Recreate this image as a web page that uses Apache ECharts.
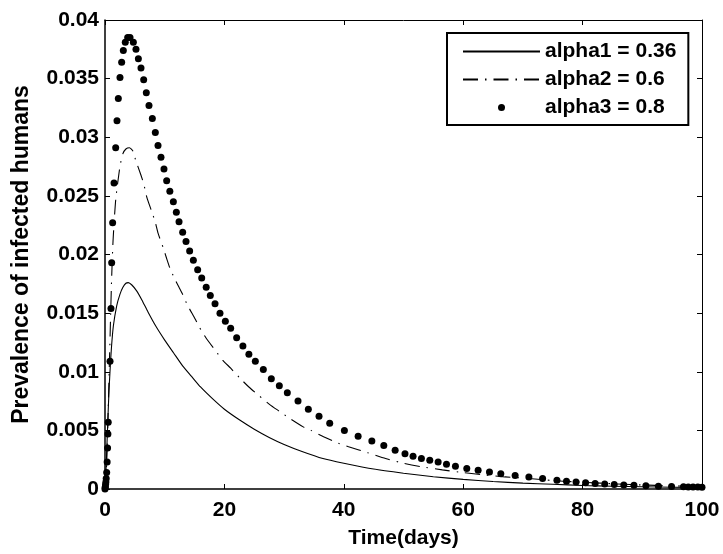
<!DOCTYPE html>
<html>
<head>
<meta charset="utf-8">
<script src="https://cdn.jsdelivr.net/npm/echarts@6/dist/echarts.min.js"></script>
<style>
html,body{margin:0;padding:0;background:#fff;}
#c{width:723px;height:554px;}
</style>
</head>
<body>
<div id="c"></div>
<script>
// ---- data ----
const xTicks = [0, 20, 40, 60, 80, 100];
const yTicks = [0, 0.005, 0.01, 0.015, 0.02, 0.025, 0.03, 0.035, 0.04];
const seriesNames = ['alpha1 = 0.36', 'alpha2 = 0.6', 'alpha3 = 0.8'];

// alpha1 = 0.36 (solid)
const tSolid = [0, 0.1, 0.2, 0.3, 0.45, 0.6, 0.75, 0.9, 1.1, 1.4, 1.95, 2.5, 3.0, 3.5, 3.9, 4.5, 5.3, 6.2, 7.2, 8.5, 10, 11.5, 13, 14.5, 16, 18, 20, 22.5, 25, 27.5, 30, 33, 36.5, 40, 45, 50, 55, 60, 65, 70, 75, 80, 85, 90, 95, 100];
const vSolid = [0, 0.0008, 0.0020, 0.0034, 0.0055, 0.0075, 0.0092, 0.0106, 0.0122, 0.0139, 0.0156, 0.0166, 0.0172, 0.01755, 0.0176, 0.0174, 0.0169, 0.0161, 0.0151, 0.0139, 0.0127, 0.0116, 0.0105, 0.0096, 0.0087, 0.0077, 0.0068, 0.0059, 0.0051, 0.0044, 0.0038, 0.0032, 0.0026, 0.0022, 0.0017, 0.00135, 0.00105, 0.00082, 0.00064, 0.0005, 0.0004, 0.0003, 0.00024, 0.00019, 0.00015, 0.00012];

// alpha2 = 0.6 (dash-dot)
const tDash = [0, 0.1, 0.2, 0.3, 0.45, 0.6, 0.75, 0.9, 1.1, 1.35, 1.8, 2.5, 3.0, 3.5, 4.1, 4.7, 5.1, 6.0, 6.5, 7.0, 7.8, 8.4, 8.9, 9.8, 10.3, 10.9, 11.7, 12.4, 13.0, 13.8, 15.1, 15.8, 16.9, 18.5, 19.7, 21.05, 22.9, 24.1, 25.7, 27.6, 29.3, 31, 33.2, 34.5, 36.6, 39.1, 40.8, 44, 47, 50, 53, 56.5, 60, 63.5, 67, 71, 75, 78.5, 83, 88, 94, 100];
const vDash = [0, 0.0004, 0.0012, 0.0025, 0.0050, 0.0080, 0.0110, 0.0140, 0.0178, 0.0212, 0.0247, 0.0275, 0.0286, 0.0290, 0.0291, 0.0288, 0.0281, 0.0268, 0.0260, 0.0249, 0.0237, 0.0228, 0.0218, 0.0205, 0.0197, 0.0188, 0.0179, 0.0172, 0.0166, 0.0157, 0.0145, 0.0138, 0.0129, 0.0118, 0.0110, 0.0103, 0.0093, 0.0087, 0.0080, 0.0072, 0.0066, 0.0060, 0.0053, 0.0050, 0.00446, 0.0039, 0.0036, 0.0031, 0.0026, 0.0022, 0.0019, 0.00163, 0.0014, 0.0012, 0.00103, 0.0009, 0.00072, 0.00062, 0.0005, 0.00038, 0.00028, 0.0002];

// alpha3 = 0.8 (solver points, drawn as dots)
const tDot = [0, 0.03, 0.06, 0.1, 0.15, 0.2, 0.28, 0.36, 0.43, 0.49, 0.54, 0.84, 1.0, 1.12, 1.28, 1.51, 1.79, 2.01, 2.23, 2.51, 2.79, 3.07, 3.4, 3.8, 4.19, 4.75, 5.19, 5.59, 6.03, 6.48, 6.92, 7.37, 7.93, 8.43, 8.88, 9.38, 9.88, 10.33, 10.86, 11.45, 11.95, 12.4, 13.01, 13.57, 14.18, 14.8, 15.52, 16.2, 16.95, 17.64, 18.43, 19.26, 20.16, 21.05, 22.05, 23.1, 24.1, 25.18, 26.52, 27.86, 29.2, 30.54, 32.33, 34.06, 35.85, 37.64, 40.1, 42.4, 44.7, 46.7, 48.6, 50.25, 51.6, 53.0, 54.4, 55.8, 57.2, 58.7, 60.6, 62.5, 64.4, 66.3, 68.7, 71.0, 73.3, 75.7, 77.3, 78.9, 80.5, 82.1, 83.7, 85.3, 86.9, 88.6, 90.6, 92.7, 94.9, 96.9, 97.7, 98.5, 99.3, 100];
const vDot = [0, 0.0001, 0.0002, 0.0004, 0.0006, 0.0009, 0.0014, 0.0023, 0.0035, 0.0047, 0.0057, 0.0109, 0.0154, 0.0193, 0.0227, 0.0261, 0.0291, 0.0314, 0.0333, 0.0351, 0.0364, 0.0374, 0.0381, 0.0385, 0.0385, 0.0381, 0.0375, 0.0367, 0.0359, 0.0349, 0.0338, 0.0327, 0.0316, 0.0304, 0.0293, 0.0283, 0.0273, 0.0263, 0.0254, 0.0245, 0.0236, 0.0228, 0.0219, 0.0211, 0.0203, 0.0195, 0.0187, 0.0180, 0.0172, 0.0165, 0.0158, 0.0150, 0.0143, 0.0137, 0.0129, 0.0122, 0.0115, 0.0109, 0.0102, 0.0094, 0.0088, 0.0082, 0.0075, 0.0068, 0.0062, 0.0056, 0.0050, 0.0045, 0.0041, 0.0037, 0.0033, 0.0030, 0.0028, 0.0026, 0.00245, 0.0023, 0.00212, 0.00195, 0.00175, 0.0016, 0.00145, 0.0013, 0.00115, 0.00102, 0.0009, 0.00075, 0.00066, 0.0006, 0.00053, 0.00047, 0.00043, 0.00038, 0.00035, 0.00031, 0.00027, 0.00024, 0.00021, 0.00019, 0.00018, 0.00017, 0.00016, 0.00015];

const zip = (t, v) => t.map((x, i) => [x, v[i]]);

const FONT = '"Liberation Sans", Arial, Helvetica, sans-serif';
const txt = {fontFamily: FONT, fontWeight: 'bold', fontSize: 21, color: '#000'};
const txtY = {fontFamily: FONT, fontWeight: 'bold', fontSize: 23, color: '#000'};

const chart = echarts.init(document.getElementById('c'), null, {renderer: 'canvas'});
const yFmt = v => String(+v.toFixed(3));

chart.setOption({
  animation: false,
  backgroundColor: '#fff',
  grid: {left: 105, right: 21, top: 20, bottom: 65, containLabel: false},
  legend: {
    orient: 'vertical', left: 447, top: 33,
    itemWidth: 77, itemHeight: 7, itemGap: 7,
    padding: [8, 12, 7, 15],
    borderColor: '#000', borderWidth: 2, borderRadius: 0,
    backgroundColor: '#fff',
    textStyle: Object.assign({lineHeight: 21}, txt),
    data: seriesNames
  },
  xAxis: [{
    type: 'value', min: xTicks[0], max: xTicks[xTicks.length - 1], interval: 20,
    position: 'bottom',
    axisLine: {show: true, onZero: false, lineStyle: {color: '#000', width: 1.5}},
    axisTick: {show: true, inside: true, length: 5, lineStyle: {color: '#000'}},
    splitLine: {show: false},
    axisLabel: Object.assign({margin: 11}, txt),
    name: 'Time(days)', nameLocation: 'middle', nameGap: 39,
    nameTextStyle: txt
  }, {
    type: 'value', min: xTicks[0], max: xTicks[xTicks.length - 1], interval: 20,
    position: 'top',
    axisLine: {show: true, onZero: false, lineStyle: {color: '#000', width: 1}},
    axisTick: {show: true, inside: true, length: 5, lineStyle: {color: '#000'}},
    splitLine: {show: false}, axisLabel: {show: false}
  }],
  yAxis: [{
    type: 'value', min: yTicks[0], max: yTicks[yTicks.length - 1], interval: 0.005,
    position: 'left',
    axisLine: {show: true, onZero: false, lineStyle: {color: '#000', width: 1.5}},
    axisTick: {show: true, inside: true, length: 5, lineStyle: {color: '#000'}},
    splitLine: {show: false},
    axisLabel: Object.assign({margin: 6, formatter: yFmt}, txt),
    name: 'Prevalence of infected humans', nameLocation: 'middle', nameGap: 72,
    nameTextStyle: txtY
  }, {
    type: 'value', min: yTicks[0], max: yTicks[yTicks.length - 1], interval: 0.005,
    position: 'right',
    axisLine: {show: true, onZero: false, lineStyle: {color: '#000', width: 1}},
    axisTick: {show: true, inside: true, length: 5, lineStyle: {color: '#000'}},
    splitLine: {show: false}, axisLabel: {show: false}
  }],
  series: [{
    name: seriesNames[0], type: 'line', data: zip(tSolid, vSolid),
    symbol: 'none', smooth: 0.2,
    lineStyle: {color: '#000', width: 1.1},
    itemStyle: {color: 'rgba(0,0,0,0)'},
    z: 3
  }, {
    name: seriesNames[1], type: 'line', data: zip(tDash, vDash),
    symbol: 'none', smooth: 0.2,
    lineStyle: {color: '#000', width: 1.1, type: [15, 7, 1.5, 7]},
    itemStyle: {color: 'rgba(0,0,0,0)'},
    z: 3
  }, {
    name: seriesNames[2], type: 'scatter', data: zip(tDot, vDot),
    symbol: 'circle', symbolSize: 7,
    itemStyle: {color: '#000', opacity: 1},
    z: 4
  }]
});
</script>
</body>
</html>
